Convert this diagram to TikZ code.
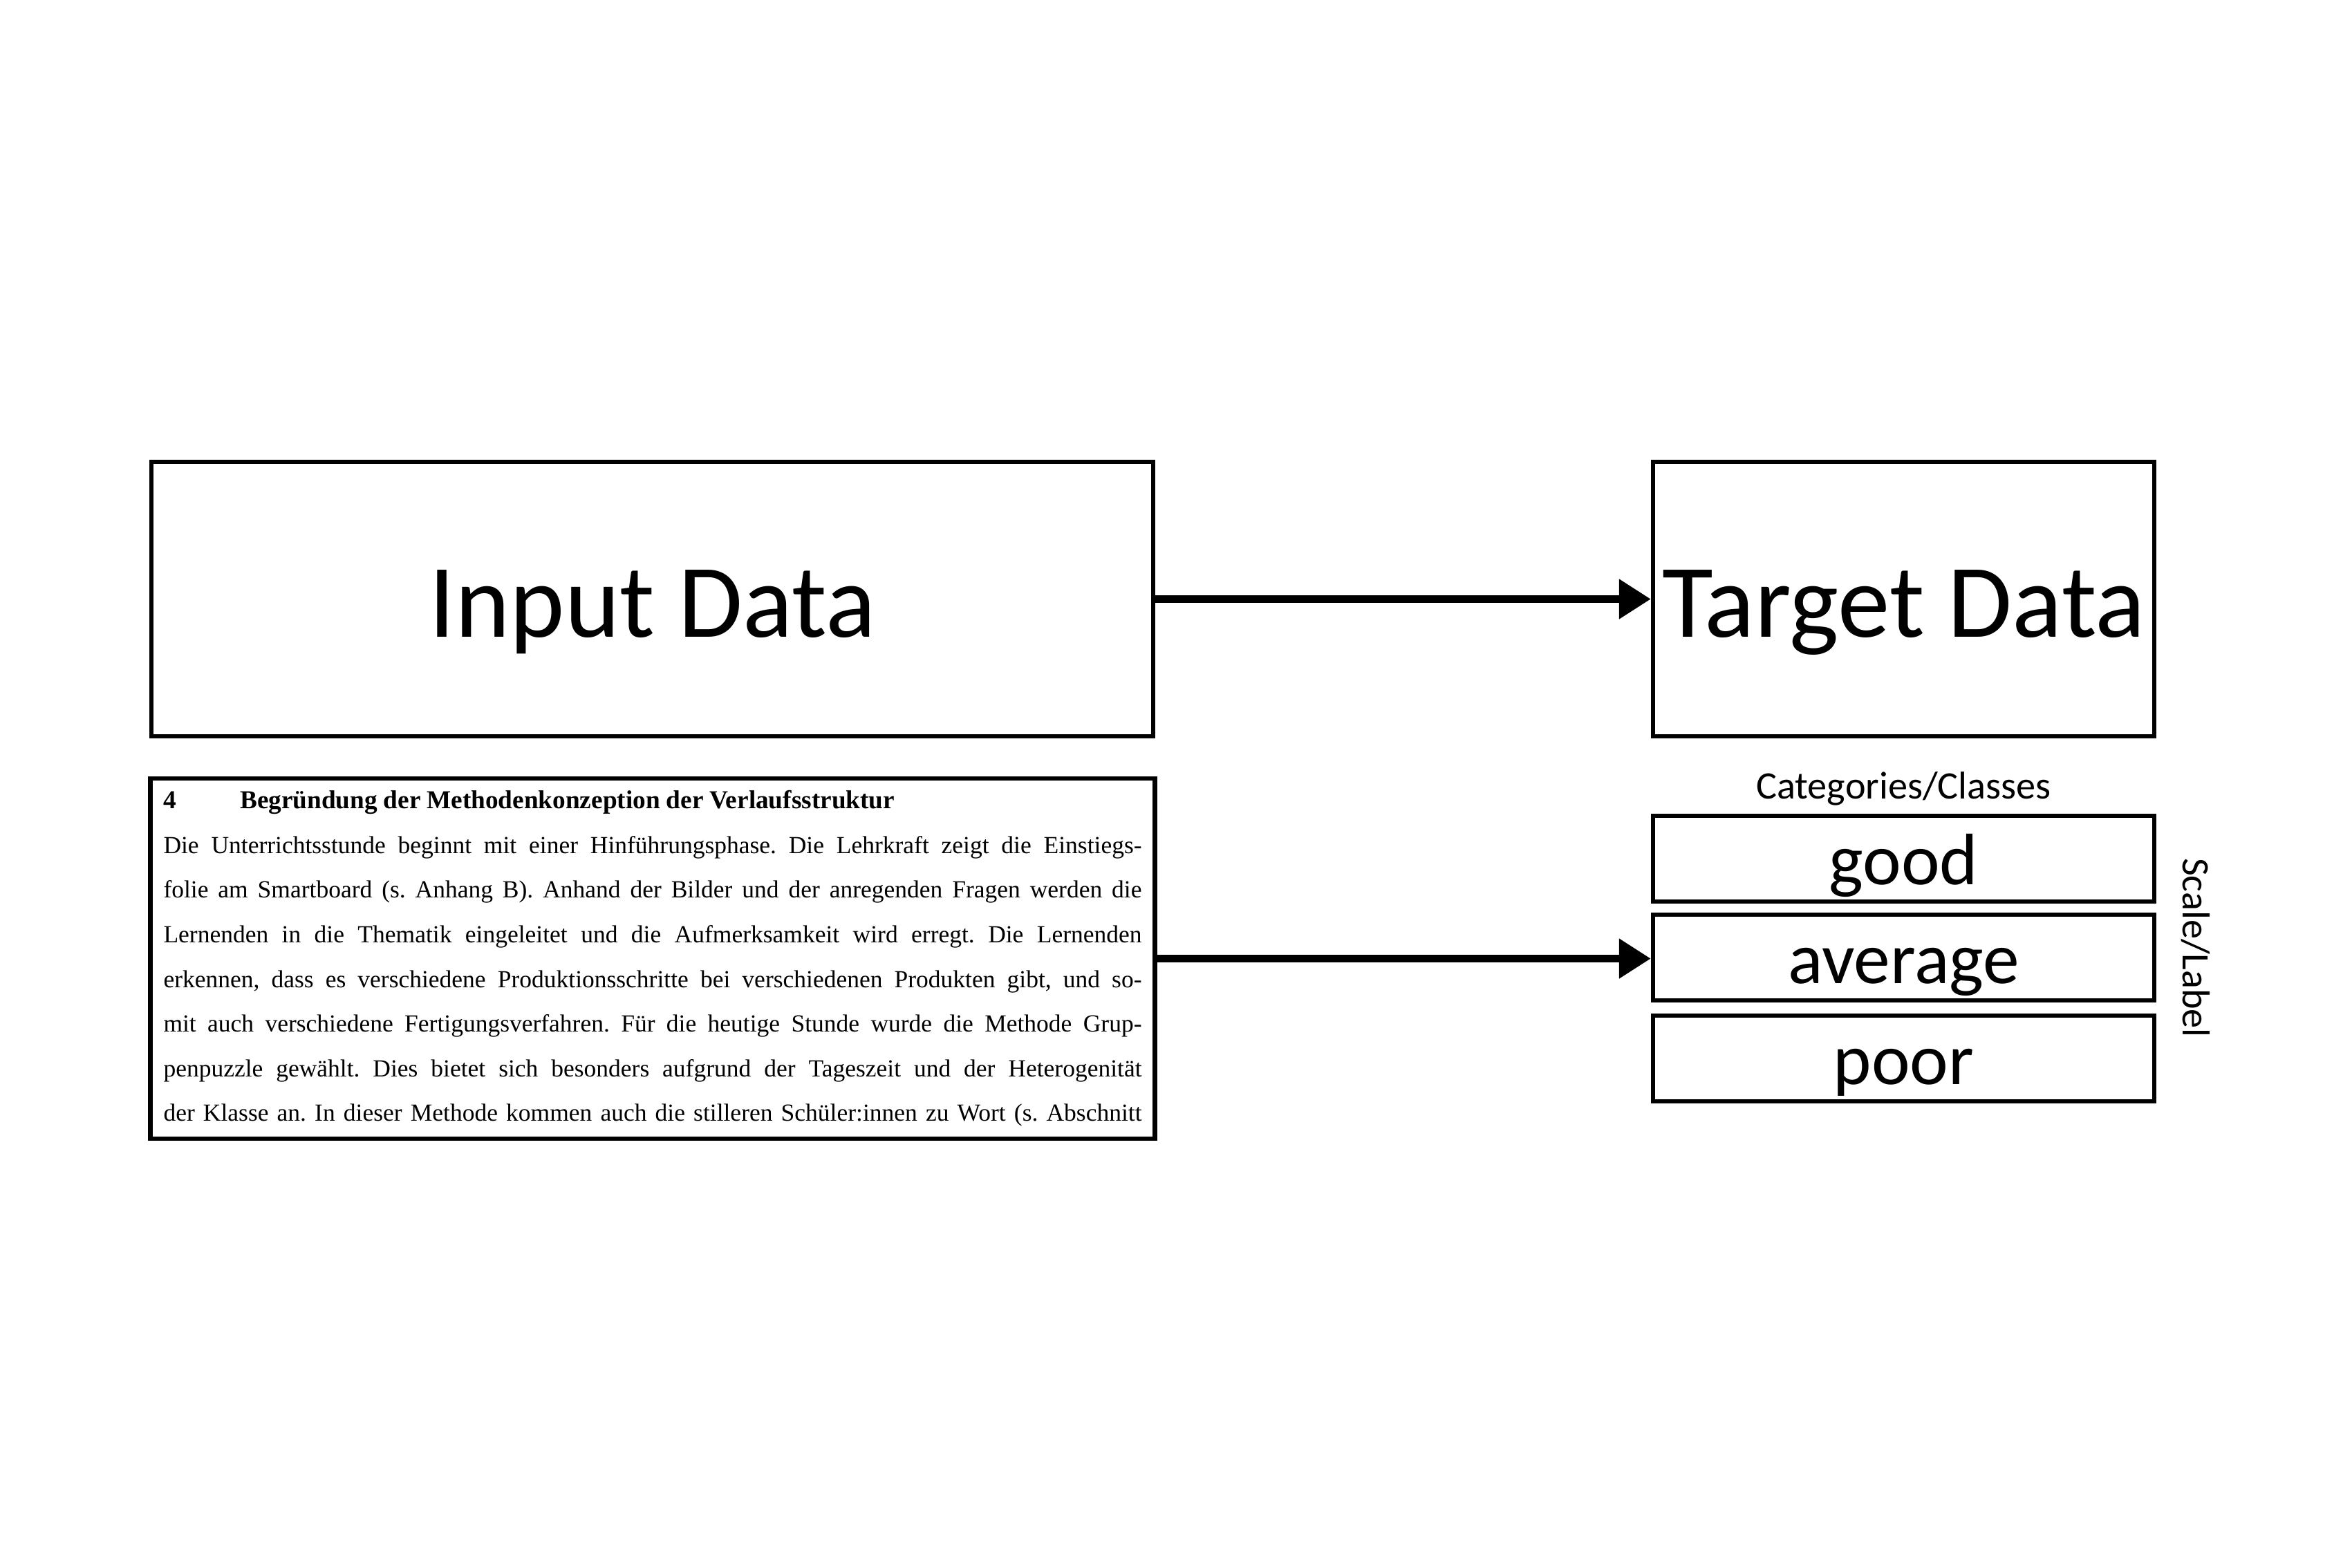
\documentclass[tikz,border=0pt]{standalone}
\usepackage{fontspec}
\setmainfont{Carlito}
\newfontfamily\docfont{Liberation Serif}
\usetikzlibrary{arrows.meta,positioning}
\newcommand{\docline}[1]{\noindent\hbox to 14.15cm{#1}\par}

\begin{document}
\begin{tikzpicture}[>={Triangle[length=0.46cm,width=0.55cm]},
  databox/.style={draw,line width=1.8pt,minimum height=3.97cm,inner sep=0pt,
    text height=1.1cm,text depth=0pt,font=\fontsize{43}{50}\selectfont},
  classbox/.style={draw,line width=1.8pt,minimum width=7.25cm,minimum height=1.24cm,inner sep=0pt,
    text height=0.74cm,text depth=0pt,font=\fontsize{30}{34}\selectfont},
  feed/.style={->,line width=3.2pt}]
  \useasboundingbox (0,0) rectangle (34.02,-22.68);
  \node[databox,minimum width=14.49cm] (input) at (9.435,-8.665) {Input Data};
  \node[databox,minimum width=7.25cm] (target) at (27.535,-8.665) {Target Data};
  \draw[feed] (input) -- (target);

  % sample text from a lesson plan
  \node[draw,line width=1.8pt,text width=14.15cm,inner xsep=0.19cm,inner ysep=0pt,
        minimum height=5.21cm,font=\docfont\fontsize{10.1}{18.38}\selectfont] (sample) at (9.44,-13.865) {\frenchspacing
    \spaceskip=0.25em plus 1fil minus 0.08em\xspaceskip=\spaceskip
    \docline{\fontsize{10.6}{18.38}\selectfont\makebox[31.5pt][l]{\textbf{4}}\textbf{Begründung der Methodenkonzeption der Verlaufsstruktur}\hfill}
    \docline{Die Unterrichtsstunde beginnt mit einer Hinführungsphase. Die Lehrkraft zeigt die Einstiegs-}
    \docline{folie am Smartboard (s. Anhang B). Anhand der Bilder und der anregenden Fragen werden die}
    \docline{Lernenden in die Thematik eingeleitet und die Aufmerksamkeit wird erregt. Die Lernenden}
    \docline{erkennen, dass es verschiedene Produktionsschritte bei verschiedenen Produkten gibt, und so-}
    \docline{mit auch verschiedene Fertigungsverfahren. Für die heutige Stunde wurde die Methode Grup-}
    \docline{penpuzzle gewählt. Dies bietet sich besonders aufgrund der Tageszeit und der Heterogenität}
    \docline{der Klasse an. In dieser Methode kommen auch die stilleren Schüler:innen zu Wort (s. Abschnitt}};

  \node[font=\fontsize{16}{19}\selectfont] (classes) at (27.535,-11.41) {Categories/Classes};
  \node[classbox] (good) at (27.535,-12.42) {good};
  \node[classbox] (average) at (27.535,-13.85) {average};
  \node[classbox] (poor) at (27.535,-15.31) {poor};
  \node[rotate=-90,font=\fontsize{16}{19}\selectfont] (scale) at (31.76,-13.71) {Scale/Label};
  \draw[feed] (sample.east) -- (sample.east -| average.west);
\end{tikzpicture}
\end{document}
